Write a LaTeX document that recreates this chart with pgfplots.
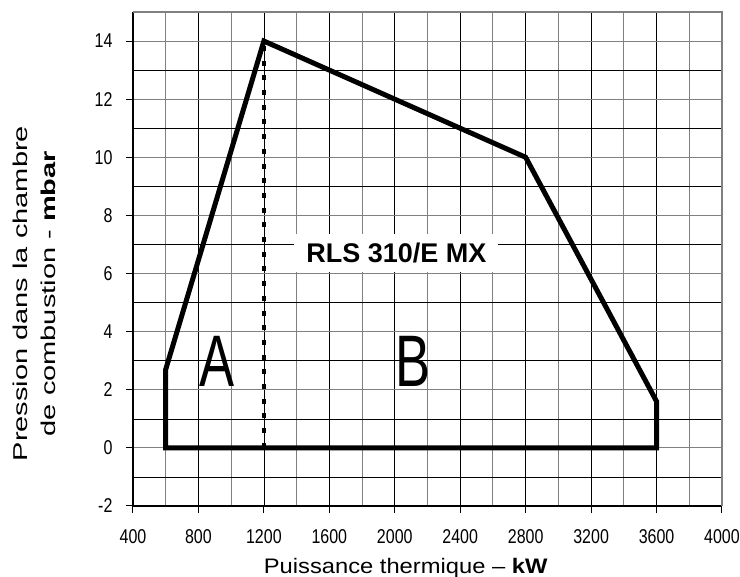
\documentclass[border=0pt]{standalone}
\usepackage{fontspec}
\setmainfont{Liberation Sans}
\newfontfamily\narrowfont[FakeStretch=0.8]{Liberation Sans}
\newfontfamily\abfont[FakeStretch=0.72]{Liberation Sans}
\newfontfamily\xlabfont[FakeStretch=1.13]{Liberation Sans}
\newfontfamily\ylabfont[FakeStretch=1.45]{Liberation Sans}
\newcommand{\tickfont}{\narrowfont\fontsize{20}{20}\selectfont}
\usepackage{pgfplots}
\pgfplotsset{compat=1.18}
\begin{document}
\begin{tikzpicture}
\begin{axis}[
  name=ax,
  scale only axis, width=589pt, height=494pt,
  xmin=400, xmax=4000, ymin=-2, ymax=15,
  xtick={400,800,...,4000}, ytick={-2,0,...,14},
  minor xtick={600,1000,...,3800}, minor ytick={-1,1,...,15},
  grid=both,
  major x grid style={black, line width=0.6pt},
  minor x grid style={gray, line width=1.1pt},
  major y grid style={gray, line width=1.1pt},
  minor y grid style={black, line width=0.6pt},
  axis x line*=bottom, axis y line*=left,
  axis line style={black, line width=2.8pt, -},
  tick align=outside, major tick length=7pt, minor tick length=0pt,
  tick style={black, line width=1pt},
  /pgf/number format/assume math mode=true,
  /pgf/number format/1000 sep={},
  xticklabel={\tickfont\pgfmathprintnumber{\tick}},
  yticklabel={\tickfont\pgfmathprintnumber{\tick}},
  xticklabel shift=13pt,
  yticklabel shift=10pt,
  xlabel={Puissance thermique \textendash{} \textbf{kW}},
  ylabel={Pression dans la chambre\\de combustion - \textbf{mbar}},
  xlabel style={at={(axis description cs:0.463,-0.125)}, anchor=center, font=\xlabfont\fontsize{21}{24}\selectfont},
  ylabel style={at={(axis description cs:-0.168,0.43)}, anchor=center, align=center, font=\ylabfont\fontsize{20}{28}\selectfont},
  no markers,
  clip=false,
]
\draw[gray, line width=1.1pt] (rel axis cs:0,1) -- (rel axis cs:1,1) -- (rel axis cs:1,0);
\addplot[black, line width=5pt, line join=miter, line cap=rect] coordinates {
  (600,0) (600,2.7) (1200,14) (2800,10) (3600,1.6) (3600,0) (600,0)
};
\addplot[black, line width=4.5pt, dash pattern=on 5pt off 9.7pt] coordinates {
  (1200,0) (1200,14)
};
\node[fill=white, inner xsep=12pt, inner ysep=9pt, font=\bfseries\fontsize{27}{27}\selectfont] at (axis cs:2010,6.72) {RLS 310/E MX};
\node[font=\abfont\fontsize{73}{73}\selectfont] at (axis cs:912,2.98) {A};
\node[font=\abfont\fontsize{73}{73}\selectfont] at (axis cs:2112,2.98) {B};
\end{axis}
\pgfresetboundingbox
\path (ax.south west) ++(-133pt,-71pt) rectangle ++(740pt,577pt);
\end{tikzpicture}
\end{document}
